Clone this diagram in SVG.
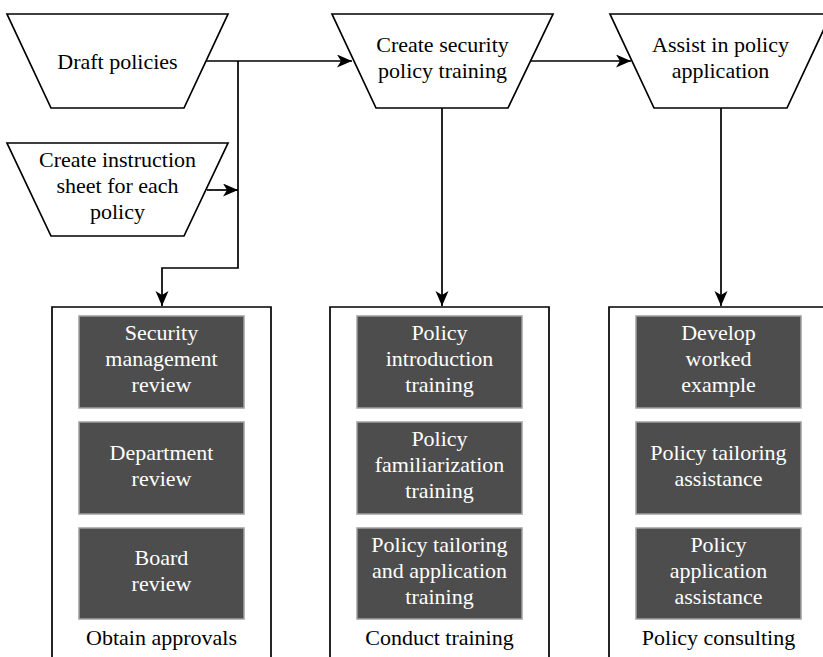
<svg xmlns="http://www.w3.org/2000/svg" width="823" height="657" viewBox="0 0 823 657">
<style>
.trap{fill:#fff;stroke:#000;stroke-width:1.7}
.cont{fill:none;stroke:#000;stroke-width:1.7}
.dark{fill:#4d4d4d;stroke:#a0a0a0;stroke-width:1.5}
.t{fill:#000;text-anchor:middle}
.w{fill:#fff;text-anchor:middle}
.c{fill:none;stroke:#000;stroke-width:1.7}
</style>
<defs>
<marker id="arr" markerWidth="16" markerHeight="14" refX="15" refY="6.5" orient="auto" markerUnits="userSpaceOnUse">
<path d="M0,0 L15,6.5 L0,13 L4,6.5 z" fill="#000"/>
</marker>
</defs>
<rect width="823" height="657" fill="#fff"/>
<g id="connectors">
<polyline class="c" points="206,61 352,61" marker-end="url(#arr)"/>
<polyline class="c" points="238,61 238,268 162,268 162,306" marker-end="url(#arr)"/>
<polyline class="c" points="207,190 238,190" marker-end="url(#arr)"/>
<polyline class="c" points="531,61 631,61" marker-end="url(#arr)"/>
<polyline class="c" points="442,108 442,306" marker-end="url(#arr)"/>
<polyline class="c" points="721,108 721,306" marker-end="url(#arr)"/>
</g>
<g font-family="'Liberation Serif', 'Times New Roman', serif" font-size="22">
<g id="draft">
<polygon class="trap" points="7,14 228,14 184,108 51,108"/>
<text class="t" x="117.5" y="69">Draft policies</text>
</g>
<g id="instruction">
<polygon class="trap" points="7,143 228,143 184,236 51,236"/>
<text class="t" x="117.5" y="167">Create instruction</text>
<text class="t" x="117.5" y="193">sheet for each</text>
<text class="t" x="117.5" y="219">policy</text>
</g>
<g id="create-training">
<polygon class="trap" points="332,14 553,14 508,108 376,108"/>
<text class="t" x="442.5" y="52">Create security</text>
<text class="t" x="442.5" y="78">policy training</text>
</g>
<g id="assist">
<polygon class="trap" points="610,14 831,14 787,108 654,108"/>
<text class="t" x="720.5" y="52">Assist in policy</text>
<text class="t" x="720.5" y="78">application</text>
</g>
<g id="approvals">
<polyline class="cont" points="52,660 52,307 271,307 271,660"/>
<text class="t" x="161.5" y="645">Obtain approvals</text>
</g>
<g id="sec-mgmt">
<rect class="dark" x="79" y="316" width="165" height="92"/>
<text class="w" x="161.5" y="340">Security</text>
<text class="w" x="161.5" y="366">management</text>
<text class="w" x="161.5" y="392">review</text>
</g>
<g id="dept">
<rect class="dark" x="79" y="422" width="165" height="92"/>
<text class="w" x="161.5" y="460">Department</text>
<text class="w" x="161.5" y="486">review</text>
</g>
<g id="board">
<rect class="dark" x="79" y="528" width="165" height="91"/>
<text class="w" x="161.5" y="565">Board</text>
<text class="w" x="161.5" y="591">review</text>
</g>
<g id="conduct">
<polyline class="cont" points="330,660 330,307 549,307 549,660"/>
<text class="t" x="439.5" y="645">Conduct training</text>
</g>
<g id="intro">
<rect class="dark" x="357" y="316" width="165" height="92"/>
<text class="w" x="439.5" y="340">Policy</text>
<text class="w" x="439.5" y="366">introduction</text>
<text class="w" x="439.5" y="392">training</text>
</g>
<g id="familiar">
<rect class="dark" x="357" y="422" width="165" height="92"/>
<text class="w" x="439.5" y="446">Policy</text>
<text class="w" x="439.5" y="472">familiarization</text>
<text class="w" x="439.5" y="498">training</text>
</g>
<g id="tailor-train">
<rect class="dark" x="357" y="528" width="165" height="91"/>
<text class="w" x="439.5" y="552">Policy tailoring</text>
<text class="w" x="439.5" y="578">and application</text>
<text class="w" x="439.5" y="604">training</text>
</g>
<g id="consulting">
<polyline class="cont" points="609,660 609,307 830,307"/>
<text class="t" x="718.5" y="645">Policy consulting</text>
</g>
<g id="worked">
<rect class="dark" x="636" y="316" width="165" height="92"/>
<text class="w" x="718.5" y="340">Develop</text>
<text class="w" x="718.5" y="366">worked</text>
<text class="w" x="718.5" y="392">example</text>
</g>
<g id="tailor-assist">
<rect class="dark" x="636" y="422" width="165" height="92"/>
<text class="w" x="718.5" y="460">Policy tailoring</text>
<text class="w" x="718.5" y="486">assistance</text>
</g>
<g id="app-assist">
<rect class="dark" x="636" y="528" width="165" height="91"/>
<text class="w" x="718.5" y="552">Policy</text>
<text class="w" x="718.5" y="578">application</text>
<text class="w" x="718.5" y="604">assistance</text>
</g>
</g>
</svg>
